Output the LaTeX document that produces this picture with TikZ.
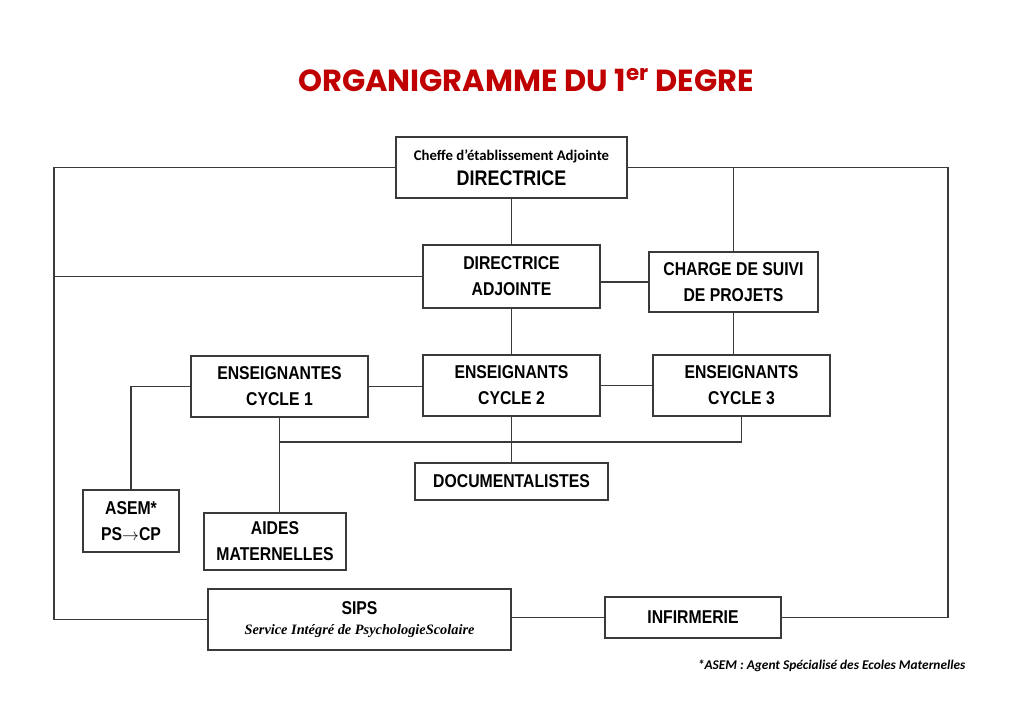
\documentclass[tikz,border=0pt]{standalone}
\usepackage{fontspec}
\usepackage{xcolor}
\setmainfont{Liberation Sans}
\newfontfamily\narrowfont[FakeStretch=0.85]{Liberation Sans}
\newfontfamily\calfont{Carlito}
\newfontfamily\titlefont{Poppins}
\newfontfamily\seriffont{Liberation Serif}
\definecolor{titlered}{HTML}{C00000}
\definecolor{linegray}{HTML}{3A3A3A}

\begin{document}
\begin{tikzpicture}[x=0.025cm,y=-0.025cm,line width=0.8pt,
    box/.style={draw=linegray,rectangle,inner sep=0pt,align=center,
      font=\narrowfont\bfseries\fontsize{13.2}{18.5}\selectfont},
    link/.style={draw=linegray,line width=0.8pt}]

  \useasboundingbox (0,0) rectangle (1024,724);

  % title
  \node (title) at (526,80) {\titlefont\bfseries\fontsize{21.7}{26}\selectfont\color{titlered}ORGANIGRAMME DU 1\textsuperscript{er} DEGRE};

  % boxes
  \node[box,minimum width=5.775cm,minimum height=1.525cm] (dir) at (511.5,167.5)
    {{\calfont\bfseries\fontsize{10.5}{12}\selectfont Cheffe d’établissement Adjointe}\\[-1pt]
     {\fontsize{15}{18}\selectfont DIRECTRICE}};
  \node[box,minimum width=4.425cm,minimum height=1.575cm] (da) at (511.5,276.5) {DIRECTRICE\\ADJOINTE};
  \node[box,minimum width=4.225cm,minimum height=1.5cm] (chg) at (733.5,282) {CHARGE DE SUIVI\\DE PROJETS};
  \node[box,minimum width=4.425cm,minimum height=1.525cm] (ec1) at (279.5,386.5) {ENSEIGNANTES\\CYCLE 1};
  \node[box,minimum width=4.425cm,minimum height=1.525cm] (ec2) at (511.5,385.5) {ENSEIGNANTS\\CYCLE 2};
  \node[box,minimum width=4.425cm,minimum height=1.525cm] (ec3) at (741.5,385.5) {ENSEIGNANTS\\CYCLE 3};
  \node[box,minimum width=4.825cm,minimum height=0.925cm] (docs) at (511.5,481.5) {DOCUMENTALISTES};
  \node[box,minimum width=2.4cm,minimum height=1.55cm] (asem) at (131,521) {ASEM*\\PS$\rightarrow$CP};
  \node[box,minimum width=3.55cm,minimum height=1.425cm] (aides) at (275,541.5) {AIDES\\MATERNELLES};
  \node[box,minimum width=7.575cm,minimum height=1.525cm] (sips) at (359.5,619.5)
    {SIPS\\[-4pt]{\seriffont\bfseries\itshape\fontsize{10.2}{12}\selectfont Service Intégré de PsychologieScolaire}};
  \node[box,minimum width=4.4cm,minimum height=1.025cm] (inf) at (693,617.5) {INFIRMERIE};

  % footnote
  \node[anchor=east,inner sep=0pt] (note) at (966,666)
    {\calfont\bfseries\itshape\fontsize{9.5}{11}\selectfont *ASEM : Agent Spécialisé des Ecoles Maternelles};

  % outer links
  \coordinate (lc) at (54,0);
  \coordinate (rc) at (948,0);
  \coordinate (bus) at (0,442);
  \draw[link] (dir.west) -| (lc |- sips.west) -- (sips.west);
  \draw[link] (da.west) -- (da.west -| lc);
  \draw[link] (dir.east) -| (rc |- inf.east) -- (inf.east);
  \draw[link] (chg.north) -- (chg.north |- dir.east);

  % inner links
  \draw[link] (dir.south) -- (da.north);
  \draw[link] (chg.west) -- (chg.west -| da.east);
  \draw[link] (da.south) -- (ec2.north);
  \draw[link] (chg.south) -- (chg.south |- ec3.north);
  \draw[link] (ec1.east) -- (ec1.east -| ec2.west);
  \draw[link] (ec2.east) -- (ec3.west);
  \draw[link] (ec1.west) -| (asem.north);
  \draw[link] (ec1.south) -- (ec1.south |- aides.north);
  \draw[link] (ec1.south |- bus) -| (ec3.south);
  \draw[link] (ec2.south) -- (docs.north);
  \draw[link] (inf.west) -- (inf.west -| sips.east);
\end{tikzpicture}
\end{document}
